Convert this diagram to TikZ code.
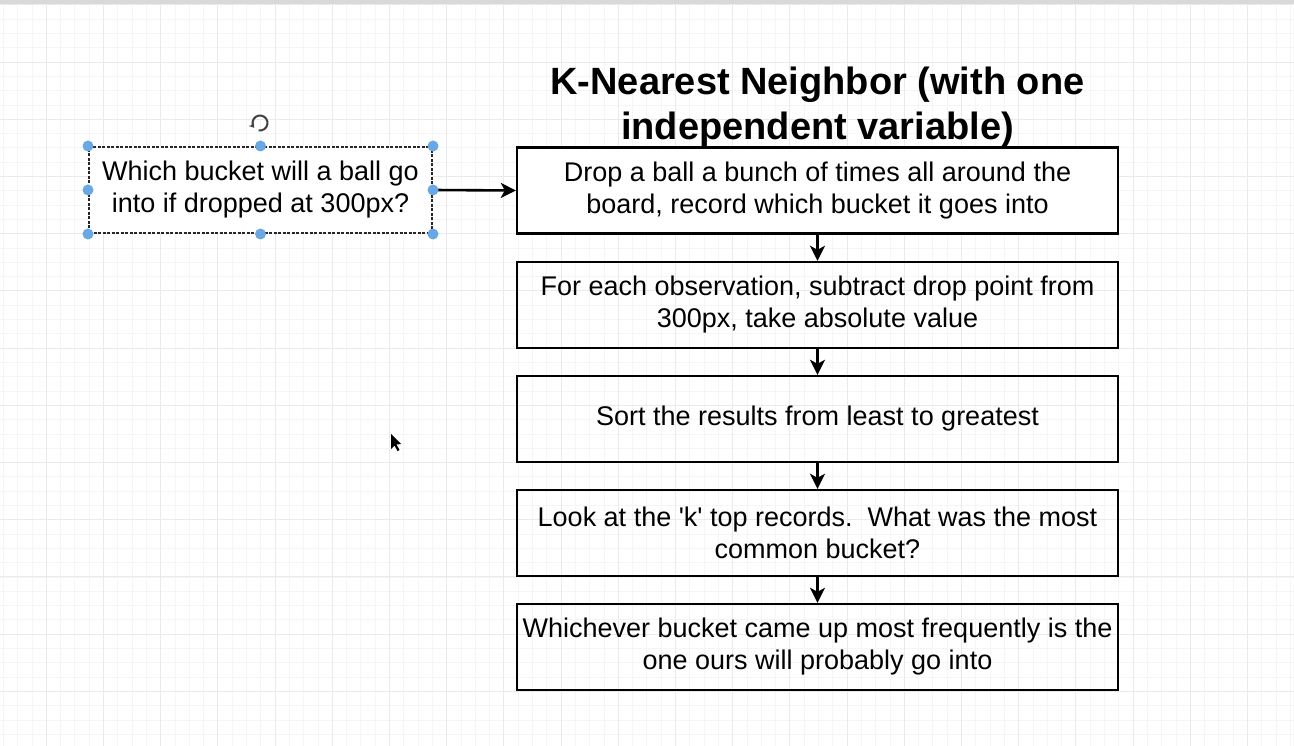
\documentclass[tikz,border=0pt]{standalone}
\usepackage{fontspec}
\setmainfont{Liberation Sans}
\newfontfamily\plainfont{Liberation Sans}
\usepackage{tikz}
\usetikzlibrary{arrows.meta, positioning, calc}

\definecolor{gridminor}{RGB}{245,245,245}
\definecolor{gridmajor}{RGB}{234,234,234}
\definecolor{handleblue}{RGB}{104,168,228}

\begin{document}
\begin{tikzpicture}[x=1pt, y=-1pt,
    stepbox/.style={draw, line width=2.4pt, minimum width=601pt, minimum height=86pt, align=center, font=\fontsize{27}{32}\selectfont, inner sep=0pt},
    flow/.style={-{Stealth[length=15pt, width=15pt, inset=4pt]}, line width=2.6pt},
    handle/.style={fill=handleblue, draw=none}]
        \useasboundingbox (0,0) rectangle (1294,746);
        \fill[white] (0,0) rectangle (1294,746);
        
        % Background grid
        \foreach \gx in {0,...,90}
          \draw[gridminor, line width=0.6pt] ({3.2+14.3*\gx},5) -- ({3.2+14.3*\gx},746);
        \foreach \gy in {0,...,52}
          \draw[gridminor, line width=0.6pt] (0,{4.8+14.3*\gy}) -- (1294,{4.8+14.3*\gy});
        \foreach \gx in {0,...,22}
          \draw[gridmajor, line width=0.8pt] ({46.1+57.2*\gx},5) -- ({46.1+57.2*\gx},746);
        \foreach \gy in {0,...,13}
          \draw[gridmajor, line width=0.8pt] (0,{4.8+57.2*\gy}) -- (1294,{4.8+57.2*\gy});
        \fill[black!15] (0,0) rectangle (1294,4);
        
        % Title
        \node[font=\bfseries\fontsize{38}{45}\selectfont, align=center] (title) at (817.5,107) {K-Nearest Neighbor (with one\\independent variable)};
        
        % Steps
        \node[stepbox, fill=white] (s1) at (817.5,190.5) {Drop a ball a bunch of times all around the\\board, record which bucket it goes into};
        \node[stepbox] (s2) at (817.5,305) {For each observation, subtract drop point from\\300px, take absolute value};
        \node[stepbox] (s3) at (817.5,419) {Sort the results from least to greatest};
        \node[stepbox] (s4) at (817.5,533) {Look at the {\plainfont 'k'} top records.\ \ What was the most\\common bucket?};
        \node[stepbox] (s5) at (817.5,647) {Whichever bucket came up most frequently is the\\one ours will probably go into};
        
        % Question (selected)
        \node[draw=black!85, dashed, dash pattern=on 3pt off 1.5pt, line width=2pt, minimum width=343pt, minimum height=86pt, align=center, font=\fontsize{27}{32}\selectfont, inner sep=0pt, fill=white] (q) at (260.5,190) {Which bucket will a ball go\\into if dropped at 300px?};
        
        \draw[flow] (q.east) -- (s1.west);
        \draw[flow] (s1.south) -- (s2.north);
        \draw[flow] (s2.south) -- (s3.north);
        \draw[flow] (s3.south) -- (s4.north);
        \draw[flow] (s4.south) -- (s5.north);
        
        % Selection handles
        \foreach \h in {north west, north, north east, west, east, south west, south, south east}
          \fill[handle] (q.\h) circle (5.5pt);
        \draw[black!75, line width=2pt, -{Stealth[length=5pt, width=6pt]}] (260,123) ++(100:7.5) arc (100:-220:7.5);
        
        % Cursor
        \fill[black] (391,434) -- (391,449) -- (394.5,445.5) -- (397.5,451) -- (399.5,450) -- (396.5,444.5) -- (401,444) -- cycle;
      \end{tikzpicture}
\end{document}
